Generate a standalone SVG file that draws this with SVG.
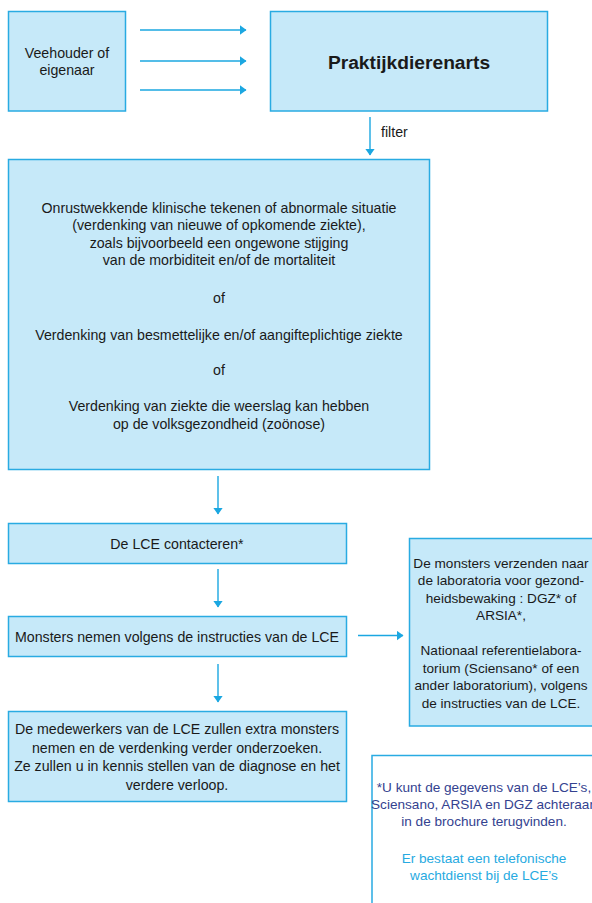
<svg xmlns="http://www.w3.org/2000/svg" width="592" height="903" viewBox="0 0 592 903">
<defs>
<style>
.box{fill:#c6e9f9;stroke:#29abe2;stroke-width:1.5}
.note{fill:#ffffff;stroke:#29abe2;stroke-width:1.5}
.t{font-family:"Liberation Sans",Arial,sans-serif;font-size:14.2px;fill:#1a1a1a;text-anchor:middle}
.b{font-weight:bold;font-size:19.2px}
.f{font-size:13.6px}
.dk{fill:#34428f}
.cy{fill:#27aae1}
.c{stroke:#1ba7e1;stroke-width:1.4;fill:none;marker-end:url(#ah)}
</style>
<marker id="ah" markerUnits="userSpaceOnUse" markerWidth="7" markerHeight="10" refX="6.5" refY="5" orient="auto">
<path d="M0,0 L7,5 L0,10 z" fill="#1ba7e1"/>
</marker>
</defs>
<rect width="592" height="903" fill="#ffffff"/>
<g id="connectors">
<line class="c" x1="140" y1="30" x2="246" y2="30"/>
<line class="c" x1="140" y1="61" x2="246" y2="61"/>
<line class="c" x1="140" y1="90" x2="246" y2="90"/>
<line class="c" x1="370" y1="117" x2="370" y2="155"/>
<text class="t" x="381" y="137" style="text-anchor:start">filter</text>
<line class="c" x1="218" y1="476" x2="218" y2="514"/>
<line class="c" x1="218" y1="569" x2="218" y2="607"/>
<line class="c" x1="218" y1="664" x2="218" y2="702"/>
<line class="c" x1="358" y1="635.5" x2="403" y2="635.5"/>
</g>
<g id="veehouder">
<rect class="box" x="8.5" y="11.5" width="117" height="99.5"/>
<text class="t" x="67" y="58">Veehouder of</text>
<text class="t" x="67" y="75">eigenaar</text>
</g>
<g id="praktijkdierenarts">
<rect class="box" x="270.5" y="11.5" width="277" height="99.5"/>
<text class="t b" x="409" y="69">Praktijkdierenarts</text>
</g>
<g id="verdenking">
<rect class="box" x="8.5" y="159.5" width="421" height="310"/>
<text class="t" x="219" y="212.5">Onrustwekkende klinische tekenen of abnormale situatie</text>
<text class="t" x="219" y="230">(verdenking van nieuwe of opkomende ziekte),</text>
<text class="t" x="219" y="247.5">zoals bijvoorbeeld een ongewone stijging</text>
<text class="t" x="219" y="265">van de morbiditeit en/of de mortaliteit</text>
<text class="t" x="219" y="302.5">of</text>
<text class="t" x="219" y="339.5">Verdenking van besmettelijke en/of aangifteplichtige ziekte</text>
<text class="t" x="219" y="375">of</text>
<text class="t" x="219" y="411">Verdenking van ziekte die weerslag kan hebben</text>
<text class="t" x="219" y="429">op de volksgezondheid (zoönose)</text>
</g>
<g id="lce">
<rect class="box" x="8.5" y="523.5" width="338" height="40"/>
<text class="t" x="177" y="549">De LCE contacteren*</text>
</g>
<g id="monsters">
<rect class="box" x="8.5" y="616.5" width="338" height="40"/>
<text class="t" x="177" y="641.5">Monsters nemen volgens de instructies van de LCE</text>
</g>
<g id="medewerkers">
<rect class="box" x="8.5" y="711.5" width="338" height="90"/>
<text class="t" x="177" y="734">De medewerkers van de LCE zullen extra monsters</text>
<text class="t" x="177" y="752.5">nemen en de verdenking verder onderzoeken.</text>
<text class="t" x="177" y="771">Ze zullen u in kennis stellen van de diagnose en het</text>
<text class="t" x="177" y="789.5">verdere verloop.</text>
</g>
<g id="laboratoria">
<rect class="box" x="409.5" y="538.5" width="190" height="187.5"/>
<text class="t f" x="501" y="567.5">De monsters verzenden naar</text>
<text class="t f" x="501" y="585">de laboratoria voor gezond-</text>
<text class="t f" x="501" y="602.5">heidsbewaking : DGZ* of</text>
<text class="t f" x="501" y="620">ARSIA*,</text>
<text class="t f" x="501" y="655">Nationaal referentielabora-</text>
<text class="t f" x="501" y="672.5">torium (Sciensano* of een</text>
<text class="t f" x="501" y="690">ander laboratorium), volgens</text>
<text class="t f" x="501" y="707.5">de instructies van de LCE.</text>
</g>
<g id="voetnoot">
<rect class="note" x="372" y="755.5" width="240" height="170"/>
<text class="t f dk" x="484" y="791.5">*U kunt de gegevens van de LCE’s,</text>
<text class="t f dk" x="484" y="808.5">Sciensano, ARSIA en DGZ achteraan</text>
<text class="t f dk" x="484" y="826">in de brochure terugvinden.</text>
<text class="t f cy" x="484" y="862.5">Er bestaat een telefonische</text>
<text class="t f cy" x="484" y="880">wachtdienst bij de LCE’s</text>
</g>
</svg>
